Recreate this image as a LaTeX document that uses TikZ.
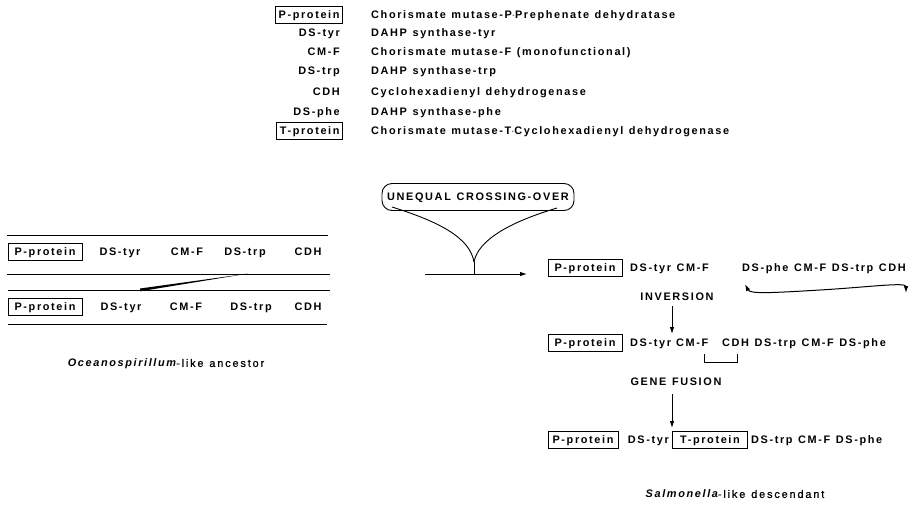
\documentclass[tikz,border=0pt]{standalone}
\usepackage{fontspec}
\setmainfont{Liberation Sans}
\newfontfamily\labf[LetterSpace=15,WordSpace=1.2,UprightFont=* Bold,ItalicFont=* Bold Italic,BoldFont=* Bold,BoldItalicFont=* Bold Italic]{Liberation Sans}
\newfontfamily\labr[LetterSpace=17,WordSpace=1.2,FakeBold=0.8]{Liberation Sans}
\usetikzlibrary{arrows.meta}
\begin{document}
\begin{tikzpicture}[x=1pt,y=-1pt,
  lab/.style={font=\labf\fontsize{10.9}{12}\selectfont, inner sep=0pt, text height=7.8pt, text depth=0pt},
  pbox/.style={lab, draw, line width=0.9pt, inner xsep=3pt, inner ysep=5pt},
  ln/.style={line width=0.9pt},
  arr/.style={line width=0.9pt, -{Latex[length=7pt,width=4.5pt]}}]
\useasboundingbox (0,0) rectangle (913,504);
% legend
\node[pbox, anchor=east] (lp) at (343,15) {P-protein};
\node[lab, anchor=east] (ldt) at (340,33) {DS-tyr};
\node[lab, anchor=east] (lcm) at (340,52) {CM-F};
\node[lab, anchor=east] (ldw) at (340,71) {DS-trp};
\node[lab, anchor=east] (lcd) at (340,92) {CDH};
\node[lab, anchor=east] (ldp) at (340,112) {DS-phe};
\node[pbox, anchor=east] (lt) at (343,131) {T-protein};
\node[lab, anchor=west] (rp) at (371,15) {Chorismate mutase-P$\cdot$Prephenate dehydratase};
\node[lab, anchor=west] (rdt) at (371,33) {DAHP synthase-tyr};
\node[lab, anchor=west] (rcm) at (371,52) {Chorismate mutase-F (monofunctional)};
\node[lab, anchor=west] (rdw) at (371,71) {DAHP synthase-trp};
\node[lab, anchor=west] (rcd) at (371,92) {Cyclohexadienyl dehydrogenase};
\node[lab, anchor=west] (rdp) at (371,112) {DAHP synthase-phe};
\node[lab, anchor=west] (rt) at (371,131) {Chorismate mutase-T$\cdot$Cyclohexadienyl dehydrogenase};
% ancestor
\draw[ln] (7,235) -- (328,235);
\draw[ln] (7,274) -- (330,274);
\draw[ln] (8,290) -- (330,290);
\draw[ln] (8,324) -- (327,324);
\fill (140,291.3) -- (248,273.6) -- (140,288.5) -- cycle;
\node[pbox, minimum width=74pt] (ap1) at (45,252) {P-protein};
\node[lab] (adt1) at (120,252) {DS-tyr};
\node[lab] (acm1) at (187,252) {CM-F};
\node[lab] (adw1) at (245,252) {DS-trp};
\node[lab] (acd1) at (308,252) {CDH};
\node[pbox, minimum width=74pt] (ap2) at (45,307) {P-protein};
\node[lab] (adt2) at (121,307) {DS-tyr};
\node[lab] (acm2) at (186,307) {CM-F};
\node[lab] (adw2) at (251,307) {DS-trp};
\node[lab] (acd2) at (308,307) {CDH};
\node[lab] (cap1) at (166,363) {{\itshape Oceanospirillum}{\labr-like ancestor}};
% crossing over
\node[lab, draw, line width=0.9pt, rounded corners=10pt, minimum width=192pt, minimum height=27pt] (co) at (478,197) {UNEQUAL CROSSING-OVER};
\coordinate (cusp) at (474,262);
\coordinate (stem) at (474,274);
\coordinate (a0) at (425,274);
\coordinate (a1) at (527,274);
\draw[ln] (392,207) .. controls (440,222) and (470,238) .. (cusp);
\draw[ln] (557,208) .. controls (510,222) and (478,240) .. (cusp);
\draw[ln] (cusp) -- (stem);
\draw[arr] (a0) -- (a1);
% row A
\node[pbox, minimum width=74pt] (bp1) at (585,268) {P-protein};
\node[lab, anchor=west] (bt1) at (630,268) {DS-tyr CM-F};
\node[lab, anchor=west] (bs1) at (742,268) {DS-phe CM-F DS-trp CDH};
\node[lab] (inv) at (677,297) {INVERSION};
\coordinate (c0) at (745,284);
\coordinate (c1) at (906,293);
\draw[line width=1pt, {Latex[length=7pt,width=4.5pt]}-{Latex[length=7pt,width=4.5pt]}] (c0) .. controls (750,294) and (770,293) .. (820,290) .. controls (870,287) and (906,282) .. (c1);
\coordinate (v0) at (672,306);
\coordinate (v1) at (672,334);
\draw[arr] (v0) -- (v1);
% row B
\node[pbox, minimum width=74pt] (bp2) at (585,343) {P-protein};
\node[lab, anchor=west] (bt2) at (630,343) {DS-tyr};
\node[lab, anchor=west] (bc2) at (676,343) {CM-F};
\node[lab, anchor=west] (bs2) at (722,343) {CDH DS-trp CM-F DS-phe};
\draw[ln] (704,354) -- (704,362) -- (737,362) -- (737,354);
\node[lab] (gf) at (676,382) {GENE FUSION};
\coordinate (w0) at (672,394);
\coordinate (w1) at (672,428);
\draw[arr] (w0) -- (w1);
% row C
\node[pbox, minimum width=70pt] (bp3) at (583,440) {P-protein};
\node[pbox, minimum width=75pt, anchor=west] (tp3) at (672,440) {T-protein};
\node[lab, anchor=east] (bt3) at ([xshift=-3pt]tp3.west) {DS-tyr};
\node[lab, anchor=west] (bs3) at ([xshift=3pt]tp3.east) {DS-trp CM-F DS-phe};
\node[lab] (cap2) at (735,494) {{\itshape Salmonella}{\labr-like descendant}};
\end{tikzpicture}
\end{document}
